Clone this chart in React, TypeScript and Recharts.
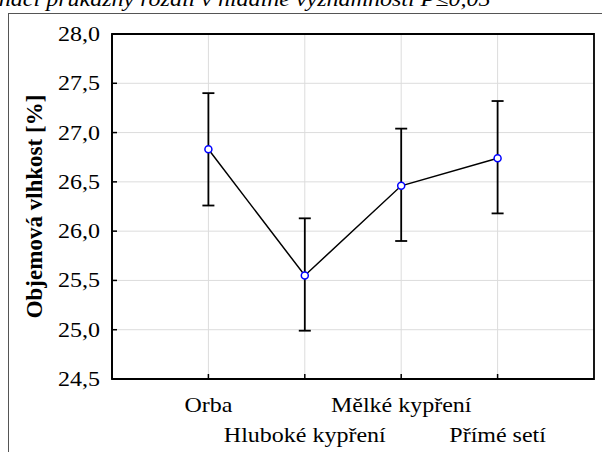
import React from 'react';
import { LineChart, Line, XAxis, YAxis, CartesianGrid, ErrorBar, Label, ReferenceArea } from 'recharts';

const categories = ['Orba', 'Hluboké kypření', 'Mělké kypření', 'Přímé setí'];
const means = [26.83, 25.55, 26.46, 26.74];
const lower = [26.26, 24.99, 25.9, 26.18];
const upper = [27.4, 26.13, 27.04, 27.32];
const yTicks = [24.5, 25.0, 25.5, 26.0, 26.5, 27.0, 27.5, 28.0];
const xTicks = [1, 2, 3, 4];

const data = categories.map((name, i) => ({
  x: i + 1,
  name,
  mean: means[i],
  err: [means[i] - lower[i], upper[i] - means[i]],
}));

const FONT = '"Liberation Serif", "Times New Roman", serif';
const fmt = (v: number) => v.toFixed(1).replace('.', ',');

function LeftTick(props: any) {
  const { x, y, payload } = props;
  return (
    <g>
      <line x1={x + 12} x2={x + 17} y1={y} y2={y} stroke="#000" strokeWidth={1.5} />
      <text
        transform={`translate(${x} ${y + 7}) scale(1.2 1)`}
        textAnchor="end"
        fontSize={20}
        fontFamily={FONT}
        fill="#000"
      >
        {fmt(payload.value)}
      </text>
    </g>
  );
}

function RightTick(props: any) {
  const { x, y } = props;
  return <line x1={x} x2={x - 5} y1={y} y2={y} stroke="#000" strokeWidth={1.5} />;
}

function BottomTick(props: any) {
  const { x, y, payload } = props;
  const idx = payload.value - 1;
  const dy = idx % 2 === 0 ? 33 : 63;
  return (
    <g>
      <line x1={x} x2={x} y1={y} y2={y - 5} stroke="#000" strokeWidth={1.5} />
      <text
        transform={`translate(${x} ${y + dy}) scale(1.2 1)`}
        textAnchor="middle"
        fontSize={20}
        fontFamily={FONT}
        fill="#000"
      >
        {categories[idx]}
      </text>
    </g>
  );
}

function TopTick(props: any) {
  const { x, y } = props;
  return <line x1={x} x2={x} y1={y} y2={y + 5} stroke="#000" strokeWidth={1.5} />;
}

function Dot(props: any) {
  const { cx, cy } = props;
  return <circle cx={cx} cy={cy} r={3.5} fill="#fff" stroke="#0000ff" strokeWidth={1.5} />;
}

const axisLine = { stroke: '#000', strokeWidth: 1.8 };

export default function App() {
  return (
    <div style={{ position: 'absolute', left: 0, top: 0, width: 602, height: 452, overflow: 'hidden', background: '#fff', fontFamily: FONT }}>
      <div
        style={{
          position: 'absolute',
          right: 112,
          top: -12,
          whiteSpace: 'nowrap',
          fontStyle: 'italic',
          fontSize: 20,
          transform: 'scaleX(1.2)',
          transformOrigin: 'right top',
          color: '#000',
        }}
      >
        značí průkazný rozdíl v hladině významnosti P≤0,05
      </div>
      <div style={{ position: 'absolute', left: 8, top: 13, width: 700, height: 500, borderLeft: '1px solid #555', borderTop: '1px solid #555' }} />
      <div style={{ position: 'absolute', left: 0, top: 0 }}>
        <LineChart width={602} height={452} data={data} margin={{ top: 34, right: 8, bottom: 0, left: 0 }}>
          <CartesianGrid stroke="#dcdcdc" strokeWidth={1} xAxisId="bottom" yAxisId="left" />
          <XAxis
            xAxisId="bottom"
            dataKey="x"
            type="number"
            domain={[0, 5]}
            ticks={xTicks}
            height={73}
            stroke="#000"
            tickSize={0}
            tickMargin={0}
            tickLine={false}
            axisLine={axisLine}
            tick={<BottomTick />}
            interval={0}
          />
          <XAxis
            xAxisId="top"
            orientation="top"
            dataKey="x"
            type="number"
            domain={[0, 5]}
            ticks={xTicks}
            height={0}
            stroke="#000"
            tickSize={0}
            tickMargin={0}
            tickLine={false}
            axisLine={axisLine}
            tick={<TopTick />}
            interval={0}
          />
          <YAxis
            yAxisId="left"
            type="number"
            domain={[24.5, 28]}
            ticks={yTicks}
            width={112}
            stroke="#000"
            tickSize={0}
            tickMargin={12}
            tickLine={false}
            axisLine={axisLine}
            tick={<LeftTick />}
            interval={0}
          >
            <Label
              content={(p: any) => {
                const vb = p.viewBox || { x: 0, y: 34, width: 112, height: 345 };
                const cx = vb.x + 34;
                const cy = vb.y + vb.height / 2;
                return (
                  <text
                    x={cx}
                    y={cy}
                    transform={`rotate(-90 ${cx} ${cy})`}
                    textAnchor="middle"
                    dominantBaseline="central"
                    fontSize={23}
                    fontWeight="bold"
                    fontFamily={FONT}
                    fill="#000"
                  >
                    Objemová vlhkost [%]
                  </text>
                );
              }}
            />
          </YAxis>
          <YAxis
            yAxisId="right"
            orientation="right"
            type="number"
            domain={[24.5, 28]}
            ticks={yTicks}
            width={0}
            stroke="#000"
            tickSize={0}
            tickMargin={0}
            tickLine={false}
            axisLine={axisLine}
            tick={<RightTick />}
            interval={0}
          />
          <ReferenceArea
            xAxisId="bottom"
            yAxisId="left"
            x1={0}
            x2={5}
            y1={24.5}
            y2={28}
            fill="none"
            fillOpacity={0}
            stroke="#000"
            strokeWidth={1.8}
            ifOverflow="visible"
          />
          <Line
            xAxisId="bottom"
            yAxisId="left"
            type="linear"
            dataKey="mean"
            stroke="#000"
            strokeWidth={1.5}
            dot={<Dot />}
            activeDot={false}
            isAnimationActive={false}
          >
            <ErrorBar dataKey="err" direction="y" stroke="#000" strokeWidth={1.8} width={6} isAnimationActive={false} />
          </Line>
        </LineChart>
      </div>
    </div>
  );
}
